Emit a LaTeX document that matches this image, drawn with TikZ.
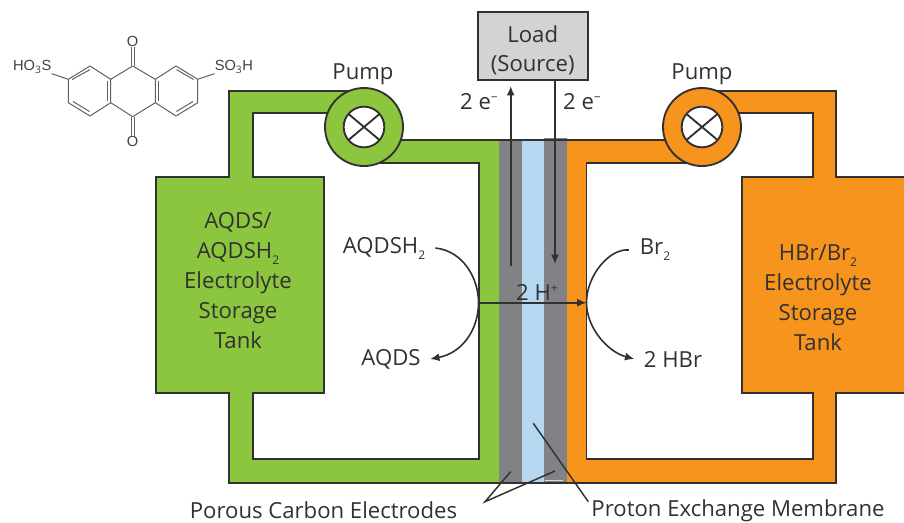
\documentclass[tikz,border=0pt]{standalone}
\usepackage{fontspec}
\setmainfont{Open Sans}
\newfontfamily\chemfont{Liberation Sans}
\usetikzlibrary{arrows.meta}
\definecolor{cellgreen}{RGB}{140,198,63}
\definecolor{cellorange}{RGB}{247,148,29}
\definecolor{cellgray}{RGB}{128,130,133}
\definecolor{cellblue}{RGB}{181,215,240}
\definecolor{loadgray}{RGB}{209,211,212}
\definecolor{inkdark}{RGB}{50,48,49}
\newcommand{\subtwo}{\raisebox{-4.5pt}{\fontsize{9}{9}\selectfont 2}}
\newcommand{\supmark}[1]{\raisebox{6pt}{\fontsize{9}{9}\selectfont #1}}
\tikzset{
	pipe/.style={draw=inkdark,line width=1.4pt,line join=miter},
	pumpring/.style={circle,draw=inkdark,line width=1.4pt,minimum size=58.5pt,inner sep=0pt,outer sep=0pt},
	pumphole/.style={circle,draw=inkdark,fill=white,line width=1.4pt,minimum size=30.5pt,inner sep=0pt,outer sep=0pt},
	label/.style={text=inkdark,font=\fontsize{16.6}{22.5}\selectfont,align=center,inner sep=0pt},
	wire/.style={draw=inkdark,line width=1.3pt},
	flow/.style={draw=inkdark,line width=1.2pt,-{Latex[length=7pt,width=6pt]}},
	pointer/.style={draw=inkdark,line width=1.1pt},
	bond/.style={draw=black!62,line width=0.75pt},
	chem/.style={text=black!75,font=\chemfont\fontsize{11}{12}\selectfont,inner sep=0pt},
}

\begin{document}
\begin{tikzpicture}[x=0.75pt,y=0.75pt,yscale=-1,xscale=1]
	\clip (0,0) rectangle (904,522);

	%Cell layers
	\fill[cellgray] (499,140) rectangle (522,483);
	\fill[cellblue] (522,140) rectangle (544,483);
	\fill[cellgray] (544,137.5) rectangle (567,483);

	%Green loop
	\draw[pipe,fill=cellgreen] (499,140) -- (364,140) -- (364,163.3) -- (479,163.3) -- (479,459.3) -- (252.7,459.3) -- (252.7,393) -- (324,393) -- (324,176.7) -- (252.7,176.7) -- (252.7,113.3) -- (364,113.3) -- (364,90.7) -- (229.3,90.7) -- (229.3,176.7) -- (155.7,176.7) -- (155.7,393) -- (229.3,393) -- (229.3,483) -- (499,483) ;
	%Orange loop
	\draw[pipe,fill=cellorange] (567,140) -- (702,140) -- (702,163.3) -- (586.5,163.3) -- (586.5,459.3) -- (813,459.3) -- (813,393) -- (741.7,393) -- (741.7,176.7) -- (813,176.7) -- (813,113.3) -- (702,113.3) -- (702,90.7) -- (836,90.7) -- (836,176.7) -- (912,176.7) -- (912,393) -- (836,393) -- (836,482.7) -- (567,482.7) ;

	%Top and bottom of the cell
	\draw[pipe] (499,140) -- (567,140) ;
	\draw[pipe] (499,483) -- (567,483) ;
	\draw[draw=black!15,line width=1pt] (545,480.8) -- (563,480.8) ;

	%Pumps
	\node[pumpring,fill=cellgreen] (pumpgreen) at (364,127) {};
	\node[pumphole] (holegreen) at (364,127) {};
	\draw[pipe] (holegreen.40) -- (holegreen.220) (holegreen.140) -- (holegreen.320) ;
	\node[pumpring,fill=cellorange] (pumporange) at (702,127) {};
	\node[pumphole] (holeorange) at (702,127) {};
	\draw[pipe] (holeorange.40) -- (holeorange.220) (holeorange.140) -- (holeorange.320) ;

	%Load
	\node[label,font=\fontsize{16.6}{21.75}\selectfont,draw=inkdark,fill=loadgray,line width=1.4pt,minimum width=82.5pt,minimum height=51pt] (load) at (532.7,46.2) {\rule{0pt}{19pt}Load\\(Source)};

	%Electron lines
	\coordinate (wireup) at (510.7,266) ;
	\coordinate (wireuptip) at (510.7,86) ;
	\coordinate (wiredown) at (555,80.3) ;
	\coordinate (wiredowntip) at (555,264) ;
	\draw[wire,-{Latex[length=7pt,width=6pt]}] (wireup) -- (wireuptip) ;
	\draw[wire,-{Latex[length=7pt,width=6pt]}] (wiredown) -- (wiredowntip) ;

	%Proton line and reactions
	\coordinate (faceleft) at (478.5,302.7) ;
	\coordinate (faceright) at (586.5,302.7) ;
	\draw[flow] (faceleft) -- (faceright) ;

	% Text Node
	\node[label] (aqdshtwo) at (384,248) {AQDSH\subtwo};
	% Text Node
	\node[label] (aqds) at (391,359) {AQDS};
	% Text Node
	\node[label] (brtwo) at (655,250) {Br\subtwo};
	% Text Node
	\node[label] (hbr) at (673,359) {2 HBr};

	\draw[flow] ([xshift=7.5pt]aqdshtwo.east) .. controls (463,251) and (478.5,278) .. (faceleft) .. controls (478.5,330) and (462,353) .. ([xshift=7pt]aqds.east) ;
	\draw[flow] ([xshift=-8pt]brtwo.west) .. controls (610,248) and (586.5,275) .. (faceright) .. controls (586.5,328) and (608,352) .. ([xshift=-7pt]hbr.west) ;

	% Text Node
	\node[label] (pumptextgreen) at (363,74) {Pump};
	% Text Node
	\node[label] (pumptextorange) at (702,74) {Pump};
	% Text Node
	\node[label] (eleft) at (479,102) {2 e\supmark{\textminus}};
	% Text Node
	\node[label] (eright) at (582,102) {2 e\supmark{\textminus}};
	% Text Node
	\node[label] (hplus) at (537,292) {2 H\supmark{+}};
	% Text Node
	\node[label] (tankgreen) at (238,281) {AQDS/\\AQDSH\subtwo\\Electrolyte\\Storage\\Tank};
	% Text Node
	\node[label] (tankorange) at (818,298) {HBr/Br\subtwo\\Electrolyte\\Storage\\Tank};
	% Text Node
	\node[label] (electrodes) at (323.5,510) {Porous Carbon Electrodes};
	% Text Node
	\node[label] (membrane) at (738,511) {Proton Exchange Membrane};

	%Pointers
	\coordinate (apex) at (485,501.7) ;
	\coordinate (electrodeleft) at (510.7,471.7) ;
	\coordinate (electroderight) at (555,471) ;
	\coordinate (membranetip) at (533.3,423.3) ;
	\coordinate (membranefoot) at (588.3,501.7) ;
	\draw[pointer] (electrodeleft) -- (apex) -- (electroderight) ;
	\draw[pointer] (membranetip) -- (membranefoot) ;

	%Molecule
	\coordinate (ca) at (132.7,66) ;
	\coordinate (cb) at (110.7,79.3) ;
	\coordinate (cc) at (110.7,102.7) ;
	\coordinate (cd) at (132.7,116.7) ;
	\coordinate (ce) at (155.3,102.7) ;
	\coordinate (cf) at (155.3,79.3) ;
	\coordinate (la) at (90,66) ;
	\coordinate (lb) at (68.3,79.3) ;
	\coordinate (lc) at (68.3,102.7) ;
	\coordinate (ld) at (90,116) ;
	\coordinate (ra) at (176,66) ;
	\coordinate (rb) at (197.7,79.3) ;
	\coordinate (rc) at (197.7,102.7) ;
	\coordinate (rd) at (176,116) ;
	\draw[bond,line join=round] (ca) -- (cb) -- (cc) -- (cd) -- (ce) -- (cf) -- cycle ;
	\draw[bond,line join=round] (cb) -- (la) -- (lb) -- (lc) -- (ld) -- (cc) ;
	\draw[bond,line join=round] (cf) -- (ra) -- (rb) -- (rc) -- (rd) -- (ce) ;
	\draw[bond] (107.4,81) -- (107.4,101) (158.6,81) -- (158.6,101) ;
	\draw[bond] (72,79.5) -- (90,69.6) (73,101.5) -- (89.5,111.5) ;
	\draw[bond] (193.5,79.5) -- (176.5,69.6) (193,101.5) -- (176.5,111.5) ;

	% Text Node
	\node[chem] (otop) at (132.7,41.7) {O};
	% Text Node
	\node[chem] (obottom) at (132.7,141.7) {O};
	% Text Node
	\node[chem,anchor=east] (sleft) at (51.7,67) {HO$_{\mathrm{3}}$S};
	% Text Node
	\node[chem,anchor=west] (sright) at (214.5,67) {SO$_{\mathrm{3}}$H};
	\draw[bond,double,double distance=1.6pt] (ca) -- (otop) ;
	\draw[bond,double,double distance=1.6pt] (cd) -- (obottom) ;
	\draw[bond] (lb) -- (sleft.south east) ;
	\draw[bond] (rb) -- (sright.south west) ;

\end{tikzpicture}
\end{document}
